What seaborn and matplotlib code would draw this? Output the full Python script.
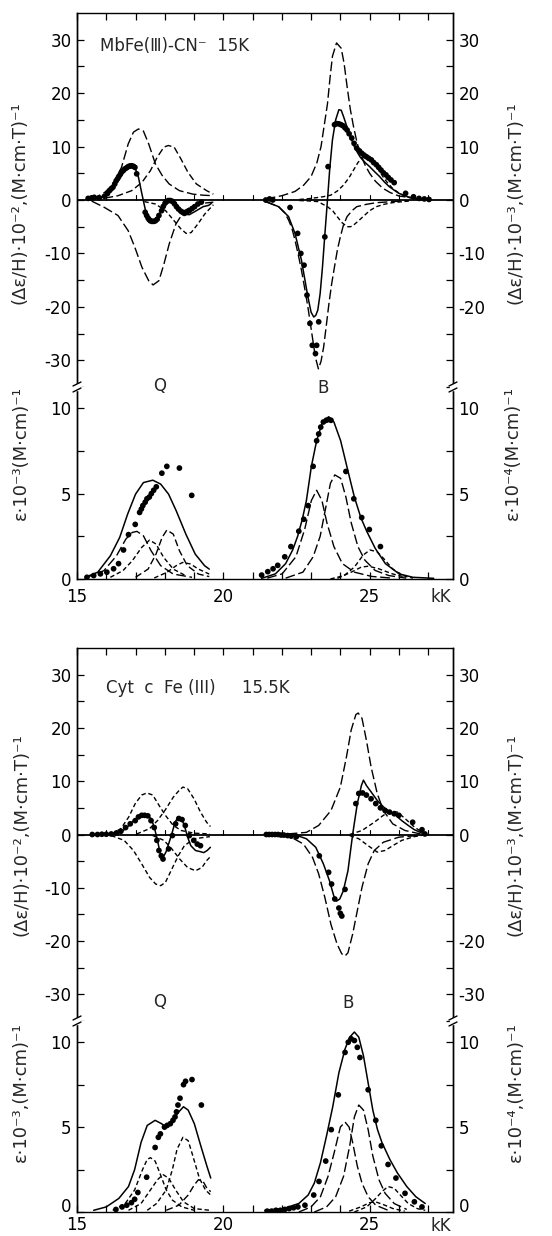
"""MCD / absorption band fits of MbFe(III)-CN- and cyt c Fe(III), two stacked panels."""

import matplotlib
matplotlib.use("Agg")
import matplotlib.pyplot as plt
from matplotlib.lines import Line2D
from matplotlib.patches import Rectangle
import pandas as pd
import seaborn as sns

# ---------------------------------------------------------------------------
# data, (kK, value) pairs
# ---------------------------------------------------------------------------

# --- MbFe(III)-CN-, MCD, Q region
mb_mcd_q_a = [(15.5, 0.1), (15.94, 1.4), (16.12, 2.3), (16.29, 3.6), (16.52, 6.1), (16.75, 10.5),
              (16.93, 12.7), (17.1, 13.3), (17.27, 12.9), (17.45, 10.5), (17.68, 6.75), (17.91, 4.6),
              (18.15, 3.0), (18.5, 1.75), (18.96, 1.1), (19.31, 0.9), (19.66, 0.8)]
mb_mcd_q_b = [(16.0, 0.4), (16.4, 0.8), (16.87, 1.75), (17.22, 3.3), (17.51, 5.5), (17.74, 8.0),
              (17.97, 9.9), (18.12, 10.2), (18.32, 9.9), (18.55, 7.7), (18.79, 5.2), (19.08, 3.0),
              (19.43, 1.75), (19.66, 1.1)]
mb_mcd_q_c = [(15.5, -0.2), (15.94, -1.4), (16.4, -2.9), (16.75, -5.75), (16.98, -8.9), (17.22, -12.6),
              (17.45, -15.1), (17.6, -15.9), (17.8, -15.1), (17.97, -12.0), (18.15, -8.25),
              (18.38, -4.5), (18.67, -2.0), (19.08, -0.75), (19.66, -0.4)]
mb_mcd_q_d = [(17.3, -0.3), (17.68, -0.75), (18.03, -2.0), (18.32, -3.9), (18.55, -5.4), (18.73, -6.25),
              (18.9, -6.1), (19.13, -4.5), (19.37, -2.6), (19.66, -0.9)]
mb_mcd_q_fit = [(15.36, 0.1), (15.82, 0.5), (16.17, 1.75), (16.4, 3.9), (16.63, 6.1), (16.81, 6.75),
                (16.98, 6.1), (17.1, 4.25), (17.22, 1.1), (17.33, -1.7), (17.45, -3.6), (17.62, -3.9),
                (17.8, -2.9), (17.97, -0.75), (18.12, 0.0), (18.26, -0.4), (18.44, -1.7), (18.61, -2.6),
                (18.84, -2.75), (19.08, -2.0), (19.31, -1.25), (19.5, -1.0), (19.6, -0.6)]
mb_mcd_q_dots = [(15.38, 0.3), (15.5, 0.4), (15.59, 0.5), (15.76, 0.4), (15.94, 0.7), (16.04, 1.2),
                 (16.11, 1.75), (16.17, 2.1), (16.23, 2.4), (16.29, 3.0), (16.34, 3.6), (16.39, 4.0),
                 (16.43, 4.4), (16.48, 4.8), (16.52, 5.2), (16.58, 5.5), (16.63, 5.8), (16.69, 6.0),
                 (16.75, 6.25), (16.81, 6.35), (16.87, 6.4), (16.93, 6.3), (16.98, 6.1), (17.04, 4.9),
                 (17.33, -2.3), (17.38, -2.9), (17.43, -3.4), (17.47, -3.7), (17.51, -3.9), (17.56, -4.0),
                 (17.62, -4.0), (17.68, -3.9), (17.74, -3.6), (17.8, -2.9), (17.89, -2.0), (17.95, -1.2),
                 (18.01, -0.6), (18.06, -0.3), (18.12, -0.1), (18.19, -0.1), (18.26, -0.25), (18.33, -0.7),
                 (18.4, -1.25), (18.47, -1.7), (18.55, -2.1), (18.61, -2.3), (18.67, -2.5), (18.75, -2.3),
                 (18.84, -2.0), (18.93, -1.6), (19.02, -1.25), (19.13, -0.75), (19.25, -0.4)]

# --- MbFe(III)-CN-, MCD, B region
mb_mcd_b_p1 = [(21.45, 0.2), (22.0, 0.8), (22.45, 1.6), (22.75, 2.8), (23.0, 4.4), (23.2, 7.0),
               (23.34, 10.0), (23.45, 14.0), (23.56, 18.0), (23.65, 23.0), (23.73, 26.9), (23.87, 29.4),
               (24.03, 28.4), (24.13, 25.5), (24.23, 21.25), (24.34, 17.0), (24.45, 13.75), (24.56, 11.0),
               (24.67, 8.75), (24.85, 6.5), (25.0, 5.0), (25.2, 3.5), (25.45, 2.2), (25.7, 1.4),
               (26.0, 0.75), (26.56, 0.3)]
mb_mcd_b_p2 = [(22.6, 0.1), (23.0, 0.3), (23.4, 0.6), (23.67, 0.9), (23.9, 1.7), (24.11, 2.8),
               (24.3, 4.2), (24.45, 5.6), (24.6, 7.0), (24.73, 7.8), (24.89, 8.1), (25.0, 7.8),
               (25.11, 7.2), (25.3, 5.8), (25.45, 4.4), (25.6, 3.3), (25.78, 2.2), (26.0, 1.3),
               (26.23, 0.6), (26.5, 0.3), (26.78, 0.1)]
mb_mcd_b_n1 = [(21.45, -0.3), (21.89, -1.25), (22.1, -2.4), (22.23, -3.75), (22.34, -5.2), (22.45, -7.5),
               (22.56, -10.2), (22.67, -13.1), (22.78, -16.5), (22.89, -20.0), (22.98, -23.3),
               (23.06, -26.25), (23.15, -29.5), (23.25, -31.6), (23.34, -30.2), (23.43, -27.5),
               (23.52, -23.5), (23.61, -19.4), (23.7, -15.8), (23.8, -12.5), (23.9, -9.3), (24.0, -6.9),
               (24.1, -4.8), (24.23, -3.1), (24.4, -2.0), (24.56, -1.25), (24.9, -0.8), (25.23, -0.5),
               (26.34, -0.1)]
mb_mcd_b_n2 = [(22.6, -0.1), (23.0, -0.2), (23.23, -0.3), (23.56, -1.25), (23.75, -2.1), (23.89, -3.1),
               (24.05, -4.2), (24.23, -5.0), (24.35, -5.0), (24.45, -4.7), (24.6, -4.0), (24.78, -3.1),
               (25.0, -2.0), (25.23, -1.25), (25.5, -0.8), (25.78, -0.5), (26.34, -0.2)]
mb_mcd_b_fit = [(21.45, -0.3), (21.89, -1.25), (22.23, -3.1), (22.45, -6.25), (22.67, -11.25),
                (22.89, -18.1), (23.0, -21.0), (23.09, -21.9), (23.16, -21.6), (23.23, -20.6),
                (23.31, -17.5), (23.39, -12.5), (23.47, -6.5), (23.56, 0.0), (23.64, 6.0), (23.73, 11.25),
                (23.84, 15.0), (23.95, 16.9), (24.03, 16.8), (24.11, 15.6), (24.22, 13.8), (24.34, 11.9),
                (24.5, 9.7), (24.67, 8.1), (24.85, 7.0), (25.0, 6.25), (25.17, 5.3), (25.34, 4.4),
                (25.5, 3.4), (25.67, 2.5), (25.85, 1.8), (26.0, 1.25), (26.3, 0.6), (26.56, 0.3),
                (27.06, 0.0)]
mb_mcd_b_dots = [(21.45, 0.0), (21.58, 0.2), (21.69, 0.0), (22.28, -1.4), (22.54, -6.25), (22.65, -10.0),
                 (22.76, -12.2), (22.86, -17.8), (22.96, -23.1), (23.04, -27.2), (23.15, -28.75),
                 (23.19, -27.2), (23.26, -22.8), (23.47, -6.9), (23.58, 6.25), (23.8, 14.1), (23.87, 14.3),
                 (23.95, 14.25), (24.02, 14.1), (24.09, 13.9), (24.16, 13.5), (24.23, 13.1), (24.3, 12.4),
                 (24.39, 11.6), (24.47, 10.6), (24.56, 9.7), (24.65, 9.2), (24.73, 8.75), (24.81, 8.4),
                 (24.89, 8.1), (24.97, 7.8), (25.06, 7.5), (25.14, 7.0), (25.23, 6.6), (25.31, 6.1),
                 (25.39, 5.6), (25.47, 5.1), (25.56, 4.7), (25.64, 4.2), (25.73, 3.75), (25.84, 3.25),
                 (26.23, 1.25), (26.5, 0.6), (26.69, 0.3), (26.87, 0.2), (27.03, 0.1)]

# --- MbFe(III)-CN-, absorption, Q region
mb_abs_q_1 = [(15.28, 0.06), (15.92, 0.49), (16.35, 1.36), (16.67, 2.34), (16.89, 2.73), (17.05, 2.79),
              (17.27, 2.53), (17.53, 1.66), (17.86, 0.78), (18.29, 0.29), (18.93, 0.1)]
mb_abs_q_2 = [(16.14, 0.1), (16.57, 0.49), (16.89, 1.07), (17.21, 1.85), (17.48, 2.28), (17.7, 2.05),
              (17.96, 1.27), (18.29, 0.58), (18.72, 0.19)]
mb_abs_q_3 = [(17.0, 0.1), (17.43, 0.58), (17.7, 1.46), (17.91, 2.44), (18.07, 2.87), (18.29, 2.63),
              (18.5, 1.66), (18.77, 0.78), (19.15, 0.29), (19.52, 0.14)]
mb_abs_q_4 = [(17.64, 0.06), (18.07, 0.39), (18.39, 0.78), (18.61, 0.97), (18.88, 0.88), (19.15, 0.58),
              (19.52, 0.29)]
mb_abs_q_fit = [(15.28, 0.1), (15.71, 0.4), (16.14, 1.36), (16.46, 2.44), (16.73, 3.8), (17.0, 4.97),
                (17.27, 5.65), (17.59, 5.79), (17.86, 5.56), (18.13, 4.97), (18.39, 4.0), (18.72, 2.63),
                (19.04, 1.46), (19.36, 0.78), (19.52, 0.58)]
mb_abs_q_dots = [(15.34, 0.1), (15.57, 0.2), (15.8, 0.3), (16.02, 0.4), (16.25, 0.6), (16.42, 0.9),
                 (16.59, 1.7), (16.76, 2.6), (16.99, 3.2), (17.14, 3.9), (17.2, 4.1), (17.25, 4.3),
                 (17.33, 4.5), (17.39, 4.7), (17.47, 4.8), (17.54, 5.0), (17.62, 5.2), (17.71, 5.4),
                 (17.9, 6.2), (18.07, 6.6), (18.5, 6.5), (18.92, 4.9)]

# --- MbFe(III)-CN-, absorption, B region
mb_abs_b_1 = [(21.5, 0.05), (22.01, 0.3), (22.48, 1.3), (22.78, 2.9), (23.01, 4.6), (23.19, 5.2),
              (23.37, 4.6), (23.54, 3.3), (23.78, 1.9), (24.07, 0.9), (24.48, 0.4), (25.07, 0.15),
              (25.78, 0.05)]
mb_abs_b_2 = [(22.13, 0.05), (22.72, 0.4), (23.07, 1.3), (23.31, 2.5), (23.48, 4.0), (23.66, 5.6),
              (23.81, 6.1), (24.01, 5.9), (24.19, 4.8), (24.37, 3.3), (24.6, 1.9), (24.84, 1.1),
              (25.19, 0.5), (25.66, 0.2), (26.25, 0.05)]
mb_abs_b_3 = [(23.66, 0.0), (24.13, 0.2), (24.48, 0.7), (24.78, 1.4), (25.01, 1.7), (25.25, 1.6),
              (25.48, 1.2), (25.78, 0.6), (26.13, 0.2), (26.48, 0.05)]
mb_abs_b_4 = [(23.9, 0.04), (24.37, 0.4), (24.72, 0.7), (24.96, 0.75), (25.31, 0.6), (25.78, 0.3),
              (26.25, 0.1)]
mb_abs_b_fit = [(21.31, 0.04), (21.78, 0.3), (22.13, 0.9), (22.37, 1.7), (22.54, 2.5), (22.7, 3.5),
                (22.84, 4.6), (23.01, 6.6), (23.19, 8.1), (23.37, 9.1), (23.6, 9.5), (23.78, 9.2),
                (24.01, 8.1), (24.25, 6.4), (24.48, 4.8), (24.7, 3.6), (24.9, 2.8), (25.19, 1.8),
                (25.54, 0.9), (26.01, 0.3), (26.48, 0.1), (27.19, 0.04)]
mb_abs_b_dots = [(21.31, 0.23), (21.52, 0.43), (21.7, 0.6), (21.86, 0.8), (22.1, 1.3), (22.31, 1.9),
                 (22.58, 2.8), (22.75, 3.5), (22.9, 4.3), (23.07, 6.6), (23.19, 8.1), (23.26, 8.5),
                 (23.33, 8.9), (23.42, 9.2), (23.52, 9.3), (23.6, 9.35), (23.68, 9.3), (24.19, 6.3),
                 (24.46, 4.7), (24.73, 3.6), (24.99, 2.9), (25.37, 1.9)]

# --- Cyt c Fe(III), MCD, Q region
cyt_mcd_q_a = [(16.17, 0.1), (16.5, 1.1), (16.77, 3.3), (16.99, 5.8), (17.21, 7.4), (17.39, 7.8),
               (17.59, 7.4), (17.8, 5.5), (18.02, 3.6), (18.29, 1.7), (18.56, 0.75), (19.0, 0.25),
               (19.54, 0.1)]
cyt_mcd_q_b = [(17.04, 0.1), (17.48, 1.1), (17.75, 2.6), (18.02, 4.65), (18.29, 7.0), (18.51, 8.4),
               (18.62, 8.9), (18.78, 8.6), (19.0, 6.7), (19.22, 4.2), (19.43, 2.3), (19.56, 1.5)]
cyt_mcd_q_c = [(16.17, -0.2), (16.61, -1.1), (16.93, -3.0), (17.21, -5.5), (17.48, -8.05), (17.69, -9.3),
               (17.86, -9.6), (18.02, -9.0), (18.24, -6.5), (18.46, -4.0), (18.67, -2.1), (19.0, -0.8),
               (19.54, -0.4)]
cyt_mcd_q_d = [(17.59, -0.2), (17.97, -1.1), (18.24, -2.7), (18.51, -4.6), (18.78, -6.2), (19.05, -6.8),
               (19.27, -6.2), (19.43, -4.9), (19.56, -4.15)]
cyt_mcd_q_fit = [(15.52, 0.0), (16.17, 0.1), (16.5, 0.4), (16.72, 1.4), (16.93, 2.6), (17.15, 3.4),
                 (17.37, 3.6), (17.53, 3.0), (17.64, 1.4), (17.75, -1.1), (17.86, -4.0), (17.93, -4.4),
                 (18.04, -3.3), (18.15, -1.45), (18.24, 0.1), (18.35, 2.3), (18.46, 3.3), (18.56, 3.1),
                 (18.67, 1.7), (18.78, -0.5), (18.89, -2.1), (19.05, -3.0), (19.2, -3.2), (19.33, -3.4),
                 (19.45, -3.0), (19.56, -2.4)]
cyt_mcd_q_dots = [(15.52, 0.0), (15.7, 0.0), (15.85, 0.05), (16.0, 0.05), (16.17, 0.1), (16.35, 0.3),
                  (16.5, 0.6), (16.66, 1.3), (16.82, 2.0), (16.99, 2.6), (17.1, 3.3), (17.21, 3.6),
                  (17.31, 3.6), (17.42, 3.5), (17.53, 2.6), (17.64, 1.3), (17.73, -1.1), (17.8, -3.0),
                  (17.88, -4.0), (17.94, -4.6), (18.13, -2.7), (18.26, -0.2), (18.37, 2.0), (18.48, 3.0),
                  (18.59, 2.8), (18.7, 1.7), (18.84, -0.2), (18.99, -1.1), (19.11, -1.8), (19.22, -2.1)]

# --- Cyt c Fe(III), MCD, B region
cyt_mcd_b_p1 = [(22.2, 0.1), (22.84, 0.4), (23.26, 1.7), (23.68, 4.5), (24.0, 8.9), (24.21, 14.6),
                (24.37, 19.6), (24.53, 22.5), (24.61, 22.8), (24.74, 21.8), (24.89, 17.7), (25.05, 12.7),
                (25.26, 7.7), (25.47, 4.5), (25.79, 2.0), (26.21, 0.75), (26.74, 0.1)]
cyt_mcd_b_p2 = [(24.32, 0.0), (24.74, 0.75), (25.16, 2.3), (25.47, 3.6), (25.74, 4.4), (25.95, 4.2),
                (26.21, 3.0), (26.53, 1.4), (26.84, 0.25)]
cyt_mcd_b_n1 = [(21.5, -0.1), (22.32, -0.5), (22.74, -1.8), (23.05, -4.3), (23.26, -7.4), (23.47, -11.8),
                (23.68, -16.9), (23.89, -20.6), (24.05, -22.4), (24.16, -22.8), (24.26, -22.2),
                (24.42, -18.7), (24.58, -14.3), (24.74, -9.9), (24.95, -5.5), (25.16, -3.0),
                (25.47, -1.45), (26.0, -0.5), (26.63, -0.2)]
cyt_mcd_b_n2 = [(24.32, -0.2), (24.63, -0.8), (24.95, -2.1), (25.26, -3.3), (25.53, -3.0), (25.79, -2.1),
                (26.1, -1.1), (26.53, -0.4), (26.84, -0.1)]
cyt_mcd_b_fit = [(21.47, 0.0), (22.53, -0.2), (22.84, -0.8), (23.16, -2.4), (23.42, -5.5), (23.63, -8.7),
                 (23.79, -11.8), (23.87, -12.5), (23.98, -12.1), (24.1, -10.6), (24.26, -6.8), (24.42, 0.0),
                 (24.58, 5.8), (24.72, 9.2), (24.79, 10.2), (24.89, 9.2), (25.05, 8.0), (25.26, 6.4),
                 (25.47, 5.2), (25.68, 4.2), (25.89, 3.6), (26.1, 2.6), (26.32, 1.7), (26.53, 0.9),
                 (26.79, 0.25), (26.89, 0.1)]
cyt_mcd_b_dots = [(21.47, 0.0), (21.57, 0.0), (21.67, 0.0), (21.77, 0.0), (21.87, 0.0), (21.97, -0.1),
                  (22.07, -0.1), (22.2, -0.2), (22.32, -0.3), (22.5, -0.4), (23.28, -4.0), (23.6, -7.1),
                  (23.7, -9.3), (23.81, -12.1), (23.95, -13.8), (24.0, -14.8), (24.05, -15.3),
                  (24.16, -10.3), (24.53, 5.8), (24.63, 7.7), (24.76, 7.8), (24.89, 7.4), (25.05, 6.7),
                  (25.21, 5.8), (25.37, 5.0), (25.53, 4.5), (25.68, 4.2), (25.84, 3.9), (26.0, 3.6),
                  (26.47, 2.3), (26.79, 0.9), (26.89, 0.1)]

# --- Cyt c Fe(III), absorption, Q region
cyt_abs_q_1 = [(16.22, 0.1), (16.65, 0.5), (16.97, 1.3), (17.24, 2.5), (17.4, 3.1), (17.51, 3.2),
               (17.67, 3.0), (17.83, 2.3), (18.05, 1.3), (18.26, 0.7), (18.58, 0.3), (19.01, 0.1)]
cyt_abs_q_2 = [(16.76, 0.1), (17.19, 0.5), (17.51, 1.3), (17.75, 1.9), (17.94, 2.2), (18.13, 2.0),
               (18.37, 1.3), (18.64, 0.6), (19.01, 0.2), (19.55, 0.1)]
cyt_abs_q_3 = [(17.4, 0.1), (17.72, 0.5), (18.05, 1.3), (18.26, 2.5), (18.42, 3.7), (18.62, 4.4),
               (18.8, 4.2), (18.96, 3.3), (19.18, 2.0), (19.39, 1.3), (19.57, 1.0)]
cyt_abs_q_4 = [(18.05, 0.1), (18.48, 0.4), (18.8, 1.0), (19.01, 1.6), (19.15, 1.9), (19.31, 1.8),
               (19.44, 1.4), (19.57, 1.2)]
cyt_abs_q_fit = [(15.57, 0.1), (16.0, 0.3), (16.43, 0.8), (16.76, 1.5), (16.97, 2.5), (17.19, 4.1),
                 (17.4, 5.1), (17.67, 5.4), (17.89, 5.2), (18.05, 5.0), (18.26, 5.4), (18.48, 5.9),
                 (18.64, 6.2), (18.8, 6.0), (19.01, 5.2), (19.23, 3.9), (19.44, 2.7), (19.57, 2.0)]
cyt_abs_q_dots = [(16.33, 0.15), (16.54, 0.3), (16.7, 0.4), (16.86, 0.55), (16.97, 0.75), (17.08, 1.15),
                  (17.38, 2.05), (17.67, 3.8), (17.78, 4.4), (17.85, 4.6), (17.99, 5.0), (18.08, 5.1),
                  (18.19, 5.2), (18.28, 5.4), (18.35, 5.6), (18.4, 5.9), (18.45, 6.3), (18.52, 6.7),
                  (18.64, 7.5), (18.71, 7.7), (18.93, 7.8), (19.25, 6.3)]

# --- Cyt c Fe(III), absorption, B region
cyt_abs_b_1 = [(22.58, 0.0), (23.0, 0.3), (23.32, 0.9), (23.58, 2.1), (23.79, 3.5), (24.0, 5.0),
               (24.16, 5.3), (24.3, 5.0), (24.42, 4.1), (24.58, 2.7), (24.74, 1.7), (24.95, 0.9),
               (25.21, 0.4), (25.63, 0.1)]
cyt_abs_b_2 = [(23.11, 0.0), (23.53, 0.3), (23.84, 0.9), (24.11, 2.1), (24.32, 3.9), (24.48, 5.6),
               (24.63, 6.3), (24.79, 6.0), (24.95, 4.85), (25.11, 3.3), (25.32, 1.9), (25.53, 1.1),
               (25.84, 0.5), (26.27, 0.15)]
cyt_abs_b_3 = [(24.48, 0.0), (24.9, 0.3), (25.21, 0.8), (25.42, 1.2), (25.63, 1.5), (25.84, 1.4),
               (26.05, 1.0), (26.32, 0.5), (26.63, 0.2), (26.9, 0.1)]
cyt_abs_b_4 = [(24.3, 0.05), (24.7, 0.3), (25.0, 0.55), (25.2, 0.6), (25.45, 0.45), (25.8, 0.2),
               (26.2, 0.05)]
cyt_abs_b_fit = [(21.42, 0.1), (22.05, 0.2), (22.58, 0.5), (22.9, 1.0), (23.11, 1.7), (23.32, 2.9),
                 (23.53, 4.5), (23.74, 6.2), (23.95, 8.2), (24.16, 9.6), (24.32, 10.3), (24.48, 10.6),
                 (24.63, 10.3), (24.79, 9.2), (24.95, 7.6), (25.11, 6.0), (25.27, 4.85), (25.42, 4.1),
                 (25.69, 3.1), (25.95, 2.3), (26.27, 1.5), (26.58, 0.9), (26.9, 0.5)]
cyt_abs_b_dots = [(21.5, 0.05), (21.65, 0.05), (21.8, 0.1), (21.95, 0.1), (22.1, 0.15), (22.25, 0.2),
                  (22.4, 0.25), (22.55, 0.3), (22.79, 0.4), (23.09, 1.0), (23.27, 1.8), (23.5, 3.0),
                  (23.69, 4.85), (23.93, 6.9), (24.16, 9.4), (24.27, 10.0), (24.37, 10.2), (24.48, 10.1),
                  (24.58, 9.7), (24.67, 9.1), (24.95, 7.2), (25.21, 5.4), (25.4, 3.9), (25.63, 2.8),
                  (25.9, 2.0), (26.21, 1.1), (26.53, 0.6), (26.79, 0.3)]

mcd_major = [-30, -20, -10, 0, 10, 20, 30]
mcd_minor = [-35, -25, -15, -5, 5, 15, 25]
mcd_left = ["-30", "-20", "-10", "0", "10", "20", "30"]
mb_mcd_right = ["", "-20", "-10", "0", "10", "20", "30"]
cyt_mcd_right = ["-30", "-20", "", "0", "10", "20", "30"]
abs_major = [0, 5, 10]
abs_minor = [2.5, 7.5]
abs_labels = ["0", "5", "10"]
x_major = [15, 20, 25]
x_labels = ["15", "20", "25"]
x_minor = list(range(16, 28))

W, H = 552, 1236
XL, XR = 77, 453
LONG = (0, (7, 2.6))
MED = (0, (5, 2.4))
SHORT = (0, (3.2, 2.0))
TXT = 12
LAB = 13

sns.set_theme(style="white", rc={"axes.edgecolor": "black", "axes.linewidth": 1.0,
                                 "xtick.color": "black", "ytick.color": "black"})
plt.rcParams["font.family"] = ["DejaVu Sans"]


def fx(px):
    return px / W


def fy(py):
    return 1 - py / H


def curve(ax, pts, ls, lw=1.0):
    df = pd.DataFrame(pts, columns=["x", "y"])
    sns.lineplot(data=df, x="x", y="y", ax=ax, color="black", lw=lw, ls=ls,
                 sort=False, estimator=None, errorbar=None)


def dots(ax, pts, s=17):
    df = pd.DataFrame(pts, columns=["x", "y"])
    sns.scatterplot(data=df, x="x", y="y", ax=ax, color="black", s=s,
                    edgecolor="none", linewidth=0, zorder=3)


def frame(ax, ylim, major, minor, left, right, bottom_axis, xpad=6.5, lift_zero=False):
    ax.set_xlim(15, 27.85)
    ax.set_ylim(*ylim)
    ax.set_xlabel("")
    ax.set_ylabel("")
    ax.set_yticks(major)
    ax.set_yticks(minor, minor=True)
    ax.set_yticklabels(left)
    ax.set_xticks(x_major)
    ax.set_xticks(x_minor, minor=True)
    ax.tick_params(which="both", direction="in", length=5, width=0.9, labelsize=TXT,
                   left=True, right=False, top=not bottom_axis, bottom=bottom_axis,
                   labelbottom=bottom_axis, pad=4)
    ax.tick_params(axis="x", pad=xpad)
    if bottom_axis:
        ax.spines["top"].set_visible(False)
        ax.set_xticklabels(x_labels)
    else:
        ax.spines["bottom"].set_visible(False)
    r = ax.twinx()
    r.set_ylim(*ylim)
    r.set_yticks(major)
    r.set_yticks(minor, minor=True)
    r.set_yticklabels(right)
    r.tick_params(which="both", direction="in", length=5, width=0.9, labelsize=TXT, pad=4)
    r.grid(False)
    for s in ("top", "bottom"):
        r.spines[s].set_visible(False)
    ax.grid(False)
    if lift_zero:
        # the "0" next to the corner sits a little higher, clear of the "15"
        ax.get_yticklabels()[0].set_va("baseline")
        r.get_yticklabels()[0].set_va("baseline")
    return r


def panel(top_px, brk_px, bot_px, mcd, absd, title, tx, ty, right_mcd,
          labels, label_px, qb_px, kk_py, xpad, lift_zero):
    ax_m = fig.add_axes([fx(XL), fy(brk_px), fx(XR - XL), (brk_px - top_px) / H])
    ax_a = fig.add_axes([fx(XL), fy(bot_px), fx(XR - XL), (bot_px - brk_px) / H])

    ax_m.axhline(0, color="black", lw=1.3, zorder=1)
    for k in x_minor:
        ax_m.plot([k, k], [0, 0.9], color="black", lw=0.8)

    for pts, ls in mcd["dashed"]:
        curve(ax_m, pts, ls)
    for pts in mcd["fit"]:
        curve(ax_m, pts, "-", lw=1.1)
    for pts in mcd["dots"]:
        dots(ax_m, pts)

    for pts, ls in absd["dashed"]:
        curve(ax_a, pts, ls)
    for pts in absd["fit"]:
        curve(ax_a, pts, "-", lw=1.1)
    for pts in absd["dots"]:
        dots(ax_a, pts)

    frame(ax_m, (-35, 35), mcd_major, mcd_minor, mcd_left, right_mcd, False)
    frame(ax_a, (0, 11.25), abs_major, abs_minor, abs_labels, abs_labels, True, xpad, lift_zero)

    ax_m.text(tx, ty, title, fontsize=TXT, ha="left", va="center")

    # y labels, left and right of each sub-axis
    ml, mr, al, ar = labels
    mx_l, mx_r, my, ax_l, ax_r, ay = label_px
    for txt, px, py in ((ml, mx_l, my), (mr, mx_r, my), (al, ax_l, ay), (ar, ax_r, ay)):
        fig.text(fx(px), fy(py), txt, rotation=90, ha="center", va="center", fontsize=LAB)

    # band labels and unit
    for lab, (px, py) in zip(["Q", "B"], qb_px):
        fig.text(fx(px), fy(py), lab, ha="center", va="center", fontsize=TXT)
    fig.text(fx(441), fy(kk_py), "kK", ha="center", va="center", fontsize=TXT)

    # axis break marks on both side spines
    for xs in (XL, XR):
        fig.add_artist(Rectangle((fx(xs - 3), fy(brk_px + 3)), 6 / W, 6 / H,
                                 transform=fig.transFigure, color="white", zorder=5))
        for dy in (-3, 3):
            fig.add_artist(Line2D([fx(xs - 4), fx(xs + 4)], [fy(brk_px + dy + 2), fy(brk_px + dy - 2)],
                                  transform=fig.transFigure, color="black", lw=1.0, zorder=6))


fig = plt.figure(figsize=(W / 100, H / 100), dpi=100)

panel(13, 387, 579,
      {"dashed": [(mb_mcd_q_a, LONG), (mb_mcd_q_b, MED), (mb_mcd_q_c, LONG), (mb_mcd_q_d, SHORT),
                  (mb_mcd_b_p1, LONG), (mb_mcd_b_p2, SHORT), (mb_mcd_b_n1, LONG), (mb_mcd_b_n2, SHORT)],
       "fit": [mb_mcd_q_fit, mb_mcd_b_fit],
       "dots": [mb_mcd_q_dots, mb_mcd_b_dots]},
      {"dashed": [(mb_abs_q_1, LONG), (mb_abs_q_2, SHORT), (mb_abs_q_3, MED), (mb_abs_q_4, SHORT),
                  (mb_abs_b_1, LONG), (mb_abs_b_2, LONG), (mb_abs_b_3, SHORT), (mb_abs_b_4, SHORT)],
       "fit": [mb_abs_q_fit, mb_abs_b_fit],
       "dots": [mb_abs_q_dots, mb_abs_b_dots]},
      "MbFe(Ⅲ)-CN⁻  15K", 15.8, 28.8, mb_mcd_right,
      ("(Δε/H)·10⁻²,(M·cm·T)⁻¹", "(Δε/H)·10⁻³,(M·cm·T)⁻¹", "ε·10⁻³(M·cm)⁻¹", "ε·10⁻⁴(M·cm)⁻¹"),
      (20, 515, 203, 21, 513, 453),
      [(160, 386), (323, 388)], 597, 6.5, False)

panel(648, 1021, 1212,
      {"dashed": [(cyt_mcd_q_a, SHORT), (cyt_mcd_q_b, SHORT), (cyt_mcd_q_c, SHORT), (cyt_mcd_q_d, SHORT),
                  (cyt_mcd_b_p1, LONG), (cyt_mcd_b_p2, SHORT), (cyt_mcd_b_n1, LONG), (cyt_mcd_b_n2, SHORT)],
       "fit": [cyt_mcd_q_fit, cyt_mcd_b_fit],
       "dots": [cyt_mcd_q_dots, cyt_mcd_b_dots]},
      {"dashed": [(cyt_abs_q_1, SHORT), (cyt_abs_q_2, SHORT), (cyt_abs_q_3, SHORT), (cyt_abs_q_4, MED),
                  (cyt_abs_b_1, LONG), (cyt_abs_b_2, LONG), (cyt_abs_b_3, SHORT), (cyt_abs_b_4, SHORT)],
       "fit": [cyt_abs_q_fit, cyt_abs_b_fit],
       "dots": [cyt_abs_q_dots, cyt_abs_b_dots]},
      "Cyt  c  Fe (III)     15.5K", 16.0, 27.5, cyt_mcd_right,
      ("(Δε/H)·10⁻²,(M·cm·T)⁻¹", "(Δε/H)·10⁻³,(M·cm·T)⁻¹", "ε·10⁻³,(M·cm)⁻¹", "ε·10⁻⁴,(M·cm)⁻¹"),
      (22, 516, 835, 21, 516, 1092),
      [(160, 1002), (348, 1003)], 1226, 3.0, True)

fig.savefig("out.png", dpi=100)
